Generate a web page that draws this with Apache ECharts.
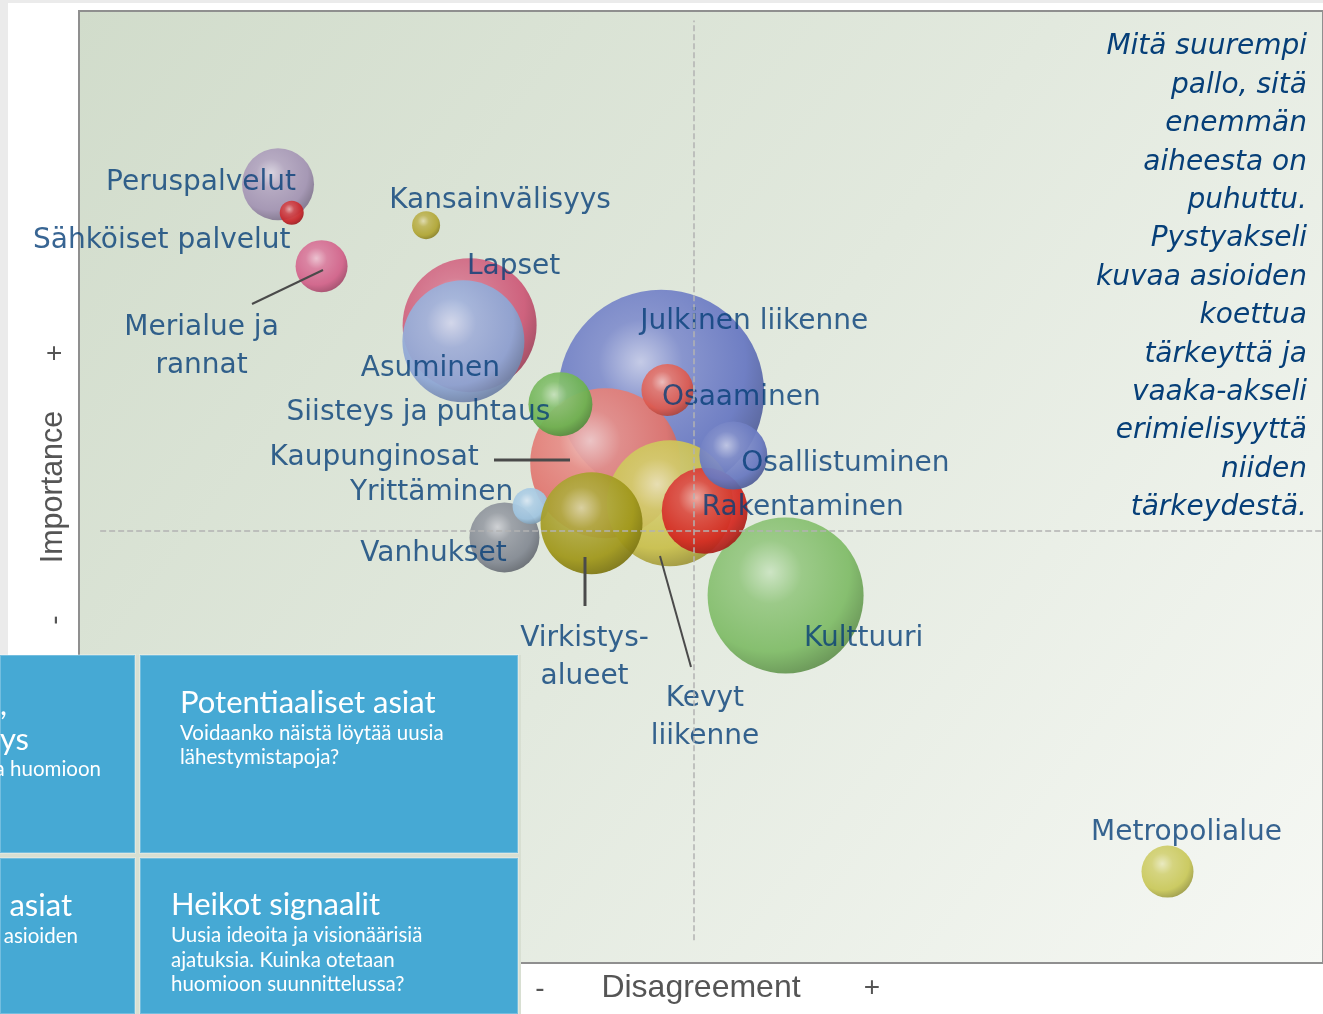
<!DOCTYPE html>
<html>
<head>
<meta charset="utf-8">
<title>Tärkeys ja erimielisyys</title>
<script src="https://cdn.jsdelivr.net/npm/echarts@6/dist/echarts.min.js"></script>
<style>
  html, body { margin: 0; padding: 0; background: #fff; }
  #chart { width: 1323px; height: 1014px; }
</style>
</head>
<body>
<div id="chart"></div>
<script>
  // aiheet, piirtojärjestyksessä (myöhemmät päällä)
  var topics = ['Peruspalvelut', 'Sähköiset palvelut', 'Merialue ja rannat', 'Kansainvälisyys',
    'Lapset', 'Asuminen', 'Julkinen liikenne', 'Kaupunginosat', 'Siisteys ja puhtaus',
    'Osaaminen', 'Kevyt liikenne', 'Kulttuuri', 'Rakentaminen', 'Osallistuminen',
    'Vanhukset', 'Yrittäminen', 'Virkistysalueet', 'Metropolialue']
  var labelText = ['Peruspalvelut', 'Sähköiset palvelut', 'Merialue ja\nrannat', 'Kansainvälisyys',
    'Lapset', 'Asuminen', 'Julkinen liikenne', 'Kaupunginosat', 'Siisteys ja puhtaus',
    'Osaaminen', 'Kevyt\nliikenne', 'Kulttuuri', 'Rakentaminen', 'Osallistuminen',
    'Vanhukset', 'Yrittäminen', 'Virkistys-\nalueet', 'Metropolialue']
  var disagreement = [16.0, 17.1, 19.5, 27.9, 31.4, 30.9, 46.8, 42.3, 38.7, 47.3, 47.5, 56.8, 50.3, 52.6, 34.2, 36.3, 41.2, 87.5]
  var importance = [81.8, 78.8, 73.2, 77.5, 67.0, 65.3, 59.9, 52.5, 58.7, 60.2, 48.3, 38.6, 47.5, 53.3, 44.7, 48.0, 46.2, 9.6]
  var mentions = [36, 12, 26, 14, 67, 61, 103, 75, 32, 26, 63, 78, 43, 34, 35, 18, 51, 26]

  // jakoviivat (nelikentän keskikohta)
  var splitX = 49.4
  var splitY = 45.4

  // tyylit
  var ballColors = ['#a394b3', '#c8262b', '#d2628a', '#b1a635', '#cd5a78', '#8ea6d4', '#6878c2',
    '#e0756e', '#6cb250', '#dc5a50', '#c9bf4c', '#80bc68', '#d42a22', '#6878c0', '#848a93',
    '#9fc4df', '#a0971a', '#c9c85a']
  var labelOffsets = [[-77, -2], [-130, 28], [-120, 81], [74, -24], [44, -58], [-33, 27], [93, -71],
    [-231, -5], [-142, 9], [74, 8], [35, 215], [78, 43], [98, -3], [112, 8], [-71, 16], [-99, -13],
    [-7, 135], [19, -39]]

  var labelFont = '"DejaVu Sans", sans-serif'
  var boxFont = 'Lato, sans-serif'
  var textBlue = '#063f78'

  function shade(hex, t) {
    var n = parseInt(hex.slice(1), 16)
    var c = [(n >> 16) & 255, (n >> 8) & 255, n & 255].map(function (v) {
      return Math.round(t > 0 ? v + (255 - v) * t : v * (1 + t))
    })
    return 'rgb(' + c.join(',') + ')'
  }
  function ball(hex) {
    return {
      type: 'radial', x: 0.4, y: 0.35, r: 0.68,
      colorStops: [
        { offset: 0, color: shade(hex, 0.6) },
        { offset: 0.3, color: shade(hex, 0.18) },
        { offset: 0.75, color: hex },
        { offset: 1, color: shade(hex, -0.22) }
      ]
    }
  }

  var bubbleData = topics.map(function (t, i) {
    return {
      name: t,
      value: [disagreement[i], importance[i], mentions[i]],
      itemStyle: { color: ball(ballColors[i]) }
    }
  })
  var labelData = topics.map(function (t, i) {
    return {
      name: t,
      value: [disagreement[i], importance[i]],
      label: { formatter: labelText[i], offset: labelOffsets[i] }
    }
  })

  function line(x1, y1, x2, y2, w) {
    return { type: 'line', z: 10, silent: true, shape: { x1: x1, y1: y1, x2: x2, y2: y2 },
      style: { stroke: '#4a4a4a', lineWidth: w || 2 } }
  }
  function box(x, y, w, h) {
    return { type: 'rect', z: 100, shape: { x: x, y: y, width: w, height: h },
      style: { fill: '#46a9d4', stroke: 'rgba(255,255,255,0.25)', lineWidth: 2 } }
  }
  function txt(s, x, y, size, align, extra) {
    var o = { type: 'text', z: 101, x: x, y: y,
      style: { text: s, fill: '#fff', font: size + 'px ' + boxFont, align: align || 'left', verticalAlign: 'middle' } }
    if (extra) Object.assign(o.style, extra)
    return o
  }
  function sign(s, x, y, rot) {
    return { type: 'text', z: 20, x: x, y: y, rotation: rot || 0,
      style: { text: s, fill: '#555', font: '28px "Liberation Sans"', align: 'center', verticalAlign: 'middle' } }
  }

  var myChart = echarts.init(document.getElementById('chart'))
  var option = {
    animation: false,
    grid: {
      left: 79, top: 11, right: 0, bottom: 51,
      outerBoundsMode: 'none',
      containLabel: false,
      show: true,
      borderColor: '#8f8f8f',
      borderWidth: 2,
      backgroundColor: {
        type: 'linear', x: 0, y: 0, x2: 1, y2: 1,
        colorStops: [
          { offset: 0, color: '#d1dccb' },
          { offset: 0.5, color: '#e2e9de' },
          { offset: 1, color: '#f6f8f4' }
        ]
      }
    },
    xAxis: {
      type: 'value', min: 0, max: 100,
      axisLine: { show: false }, axisTick: { show: false }, axisLabel: { show: false }, splitLine: { show: false },
      name: 'Disagreement', nameLocation: 'middle', nameGap: 9,
      nameTextStyle: { fontFamily: 'Liberation Sans', fontSize: 32, color: '#555' }
    },
    yAxis: {
      type: 'value', min: 0, max: 100,
      axisLine: { show: false }, axisTick: { show: false }, axisLabel: { show: false }, splitLine: { show: false },
      name: 'Importance', nameLocation: 'middle', nameGap: 10,
      nameTextStyle: { fontFamily: 'Liberation Sans', fontSize: 30.5, color: '#555' }
    },
    series: [
      {
        type: 'line', z: 1, data: [],
        markLine: {
          silent: true, symbol: 'none', label: { show: false },
          lineStyle: { type: 'dashed', color: '#b3b3b3', width: 1.5 },
          data: [
            [{ coord: [splitX, 2.4] }, { coord: [splitX, 99] }],
            [{ coord: [1.7, splitY] }, { coord: [100, splitY] }]
          ]
        }
      },
      {
        type: 'scatter', z: 2,
        symbolSize: function (v) { return v[2] * 2 },
        itemStyle: { opacity: 0.94 },
        data: bubbleData
      },
      {
        type: 'scatter', z: 3, silent: true,
        symbolSize: 1,
        itemStyle: { color: 'rgba(0,0,0,0)' },
        label: {
          show: true, position: 'inside', color: textBlue,
          fontFamily: labelFont, fontSize: 28, lineHeight: 38, align: 'center'
        },
        data: labelData
      }
    ],
    graphic: [
      { type: 'rect', z: 0, shape: { x: 0, y: 0, width: 8, height: 655 }, style: { fill: '#ebebeb' } },
      { type: 'rect', z: 0, shape: { x: 0, y: 0, width: 1323, height: 3 }, style: { fill: '#ebebeb' } },
      // selitysteksti oikealla
      { type: 'text', z: 20, x: 1307, y: 28,
        style: { text: 'Mitä suurempi\npallo, sitä\nenemmän\naiheesta on\npuhuttu.\nPystyakseli\nkuvaa asioiden\nkoettua\ntärkeyttä ja\nvaaka-akseli\nerimielisyyttä\nniiden\ntärkeydestä.',
          fill: textBlue, font: 'italic 28px "DejaVu Sans"', align: 'right', verticalAlign: 'top', lineHeight: 38.4 } },
      // akselien +/- merkit
      sign('+', 55, 353, Math.PI / 2),
      sign('-', 55, 620, Math.PI / 2),
      sign('-', 540, 989),
      sign('+', 872, 988),
      // viittausviivat
      line(252, 304, 323, 270, 2),
      line(494, 460, 570, 460, 3),
      line(585, 557, 585, 606, 3),
      line(660, 556, 691, 667, 2),
      // nelikentän laatikot
      { type: 'rect', z: 99, shape: { x: 0, y: 655, width: 521, height: 359 }, style: { fill: '#d8dfd2' } },
      box(0, 655, 135, 198),
      box(140, 655, 378, 198),
      box(0, 858, 135, 156),
      box(140, 858, 378, 156),
      txt(',', 7, 705, 31, 'right'),
      txt('ys', 29, 740, 31, 'right'),
      txt('a huomioon', 101, 769, 20.5, 'right'),
      txt('Potentiaaliset asiat', 180, 703, 31),
      txt('Voidaanko näistä löytää uusia\nlähestymistapoja?', 180, 745, 20.5, 'left', { lineHeight: 24 }),
      txt('asiat', 72, 906, 31, 'right'),
      txt('asioiden', 78, 936, 20.5, 'right'),
      txt('Heikot signaalit', 171, 905, 31),
      txt('Uusia ideoita ja visionäärisiä\najatuksia. Kuinka otetaan\nhuomioon suunnittelussa?', 171, 960, 20.5, 'left', { lineHeight: 24.5 })
    ]
  }
  myChart.setOption(option)
</script>
</body>
</html>
